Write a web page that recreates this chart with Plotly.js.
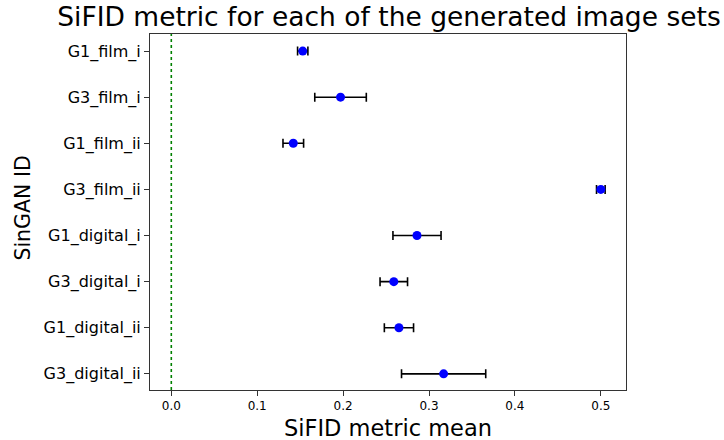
<!DOCTYPE html>
<html>
<head>
<meta charset="utf-8">
<script src="https://cdn.plot.ly/plotly-3.0.1.min.js"></script>
<style>
  html, body { margin: 0; padding: 0; background: #ffffff; }
  #chart { width: 724px; height: 440px; }
</style>
</head>
<body>
<div id="chart"></div>
<script>
// Data
const singanIds = ["G1_film_i", "G3_film_i", "G1_film_ii", "G3_film_ii",
                   "G1_digital_i", "G3_digital_i", "G1_digital_ii", "G3_digital_ii"];
const sifidMean = [0.153, 0.197, 0.142, 0.500, 0.286, 0.259, 0.265, 0.317];
const sifidErr  = [0.006, 0.030, 0.012, 0.005, 0.028, 0.016, 0.017, 0.049];
const xTickVals = [0.0, 0.1, 0.2, 0.3, 0.4, 0.5];
const xTickText = ["0.0", "0.1", "0.2", "0.3", "0.4", "0.5"];
const referenceX = 0.0;

const font = "DejaVu Sans, sans-serif";

const trace = {
  type: "scatter",
  mode: "markers",
  x: sifidMean,
  y: singanIds,
  marker: { color: "#0000ff", size: 9 },
  error_x: {
    type: "data",
    array: sifidErr,
    visible: true,
    color: "#000000",
    thickness: 1.6,
    width: 4.5
  },
  hoverinfo: "x+y",
  showlegend: false
};

const layout = {
  width: 724,
  height: 440,
  margin: { l: 150, r: 98, t: 34, b: 50 },
  paper_bgcolor: "#ffffff",
  plot_bgcolor: "#ffffff",
  font: { family: font, color: "#000000" },
  title: {
    text: "SiFID metric for each of the generated image sets",
    font: { family: font, size: 26.5, color: "#000000" },
    x: 389 / 724,
    xanchor: "center",
    xref: "container",
    y: 1 - 17 / 440,
    yanchor: "middle",
    yref: "container"
  },
  xaxis: {
    range: [-0.0248, 0.5293],
    tickmode: "array",
    tickvals: xTickVals,
    ticktext: xTickText,
    ticks: "outside",
    ticklen: 5,
    tickwidth: 1,
    tickcolor: "#333333",
    tickfont: { family: font, size: 12, color: "#000000" },
    showgrid: false,
    zeroline: false,
    showline: true,
    linecolor: "#333333",
    linewidth: 1,
    mirror: true
  },
  yaxis: {
    type: "category",
    categoryorder: "array",
    categoryarray: singanIds,
    range: [7.35, -0.37],
    ticks: "outside",
    ticklen: 5,
    tickwidth: 1,
    tickcolor: "#333333",
    tickfont: { family: font, size: 16, color: "#000000" },
    showgrid: false,
    zeroline: false,
    showline: true,
    linecolor: "#333333",
    linewidth: 1,
    mirror: true
  },
  shapes: [{
    type: "line",
    xref: "x",
    yref: "paper",
    x0: referenceX,
    x1: referenceX,
    y0: 0,
    y1: 1,
    line: { color: "#008000", width: 1.6, dash: "dot" },
    layer: "below"
  }],
  annotations: [
    {
      text: "SiFID metric mean",
      xref: "paper", yref: "paper",
      x: 0.5, y: -0.107,
      xanchor: "center", yanchor: "middle",
      showarrow: false,
      font: { family: font, size: 22.5, color: "#000000" }
    },
    {
      text: "SinGAN ID",
      xref: "paper", yref: "paper",
      x: -0.2665, y: 0.51,
      xanchor: "center", yanchor: "middle",
      textangle: -90,
      showarrow: false,
      font: { family: font, size: 20.5, color: "#000000" }
    }
  ]
};

Plotly.newPlot("chart", [trace], layout, { displayModeBar: false, staticPlot: true });
</script>
</body>
</html>
